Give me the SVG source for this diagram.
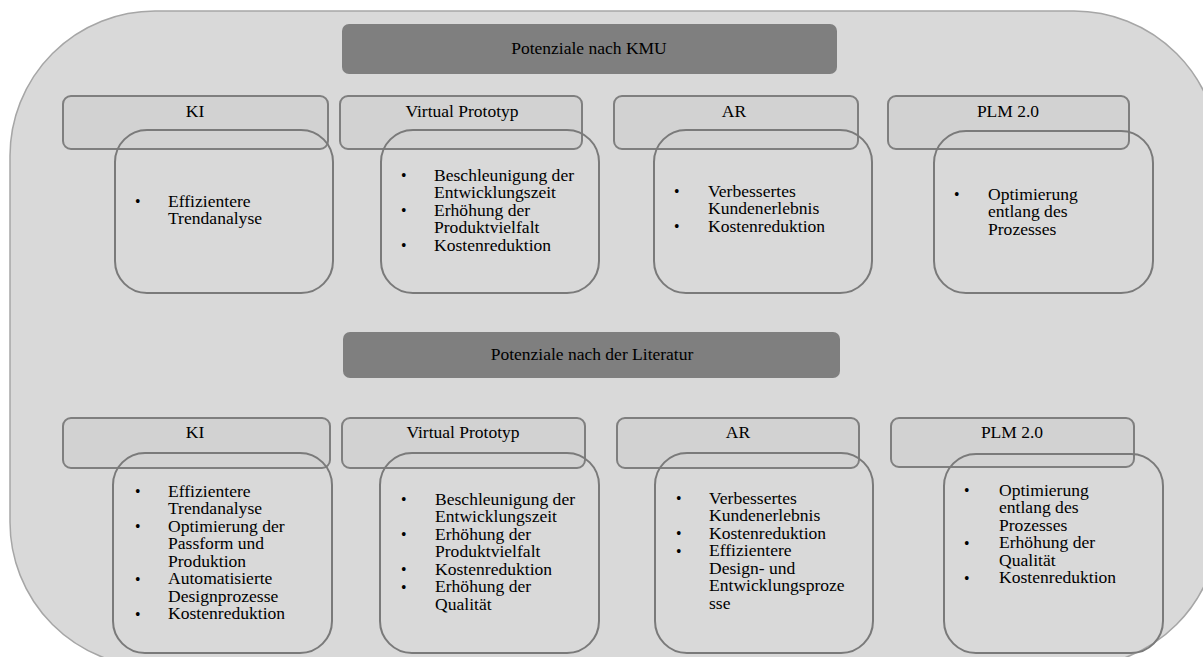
<svg xmlns="http://www.w3.org/2000/svg" width="1203" height="657" viewBox="0 0 1203 657" font-family="'Liberation Serif', 'DejaVu Serif', serif">
  <style>
    text { font-family: "Liberation Serif", "Tinos", "DejaVu Serif", serif; font-size: 17.5px; fill: #000; }
    .title { text-anchor: middle; }
    .list { font-size: 15.7px; }
    .hdr { fill: #d2d2d2; stroke: #7f7f7f; stroke-width: 2; }
    .card { fill: none; stroke: #7a7a7a; stroke-width: 2; }
    .band { fill: #7f7f7f; }
  </style>
  <rect width="1203" height="657" fill="#ffffff"/>
  <!-- outer frame -->
  <rect id="frame" x="10" y="11" width="1209" height="656" rx="145" ry="145" fill="#d9d9d9" stroke="#a6a6a6" stroke-width="1.5"/>

  <!-- section bands -->
  <g id="band-kmu">
    <rect class="band" x="342" y="24" width="495" height="50" rx="7"/>
    <text class="title" x="589" y="54">Potenziale nach KMU</text>
  </g>
  <g id="band-lit">
    <rect class="band" x="343" y="332" width="497" height="46" rx="7"/>
    <text class="title" x="592" y="360">Potenziale nach der Literatur</text>
  </g>

  <!-- upper row; list lines are set slightly condensed in height and widened -->
  <g id="kmu-ki">
    <rect class="hdr" x="63" y="96" width="265" height="53" rx="8"/>
    <text class="title" x="195" y="117">KI</text>
    <rect class="card" x="115" y="130" width="218" height="163" rx="32"/>
    <text class="list" x="135" y="207">•</text>
    <text class="list" transform="translate(168 207) scale(1.12 1)">Effizientere<tspan x="0" dy="17.5">Trendanalyse</tspan></text>
  </g>
  <g id="kmu-vp">
    <rect class="hdr" x="340" y="96" width="242" height="53" rx="8"/>
    <text class="title" x="462" y="117">Virtual Prototyp</text>
    <rect class="card" x="381" y="130" width="218" height="163" rx="32"/>
    <text class="list" x="401" y="181">•<tspan x="401" dy="35">•</tspan><tspan x="401" dy="35">•</tspan></text>
    <text class="list" transform="translate(434 181) scale(1.12 1)">Beschleunigung der<tspan x="0" dy="17.5">Entwicklungszeit</tspan><tspan x="0" dy="17.5">Erhöhung der</tspan><tspan x="0" dy="17.5">Produktvielfalt</tspan><tspan x="0" dy="17.5">Kostenreduktion</tspan></text>
  </g>
  <g id="kmu-ar">
    <rect class="hdr" x="614" y="96" width="244" height="53" rx="8"/>
    <text class="title" x="734" y="117">AR</text>
    <rect class="card" x="654" y="130" width="218" height="163" rx="32"/>
    <text class="list" x="674" y="197">•<tspan x="674" dy="35">•</tspan></text>
    <text class="list" transform="translate(708 197) scale(1.12 1)">Verbessertes<tspan x="0" dy="17.5">Kundenerlebnis</tspan><tspan x="0" dy="17.5">Kostenreduktion</tspan></text>
  </g>
  <g id="kmu-plm">
    <rect class="hdr" x="888" y="96" width="241" height="53" rx="8"/>
    <text class="title" x="1008" y="117">PLM 2.0</text>
    <rect class="card" x="934" y="131" width="219" height="162" rx="32"/>
    <text class="list" x="954" y="200">•</text>
    <text class="list" transform="translate(988 200) scale(1.12 1)">Optimierung<tspan x="0" dy="17.5">entlang des</tspan><tspan x="0" dy="17.5">Prozesses</tspan></text>
  </g>

  <!-- lower row -->
  <g id="lit-ki">
    <rect class="hdr" x="63" y="418" width="267" height="50" rx="8"/>
    <text class="title" x="195" y="438">KI</text>
    <rect class="card" x="113" y="453" width="219" height="200" rx="32"/>
    <text class="list" x="135" y="497">•<tspan x="135" dy="35">•</tspan><tspan x="135" dy="52.5">•</tspan><tspan x="135" dy="35">•</tspan></text>
    <text class="list" transform="translate(168 497) scale(1.12 1)">Effizientere<tspan x="0" dy="17.5">Trendanalyse</tspan><tspan x="0" dy="17.5">Optimierung der</tspan><tspan x="0" dy="17.5">Passform und</tspan><tspan x="0" dy="17.5">Produktion</tspan><tspan x="0" dy="17.5">Automatisierte</tspan><tspan x="0" dy="17.5">Designprozesse</tspan><tspan x="0" dy="17.5">Kostenreduktion</tspan></text>
  </g>
  <g id="lit-vp">
    <rect class="hdr" x="342" y="418" width="243" height="50" rx="8"/>
    <text class="title" x="463" y="438">Virtual Prototyp</text>
    <rect class="card" x="380" y="453" width="219" height="200" rx="32"/>
    <text class="list" x="401" y="505">•<tspan x="401" dy="35">•</tspan><tspan x="401" dy="35">•</tspan><tspan x="401" dy="17.5">•</tspan></text>
    <text class="list" transform="translate(435 505) scale(1.12 1)">Beschleunigung der<tspan x="0" dy="17.5">Entwicklungszeit</tspan><tspan x="0" dy="17.5">Erhöhung der</tspan><tspan x="0" dy="17.5">Produktvielfalt</tspan><tspan x="0" dy="17.5">Kostenreduktion</tspan><tspan x="0" dy="17.5">Erhöhung der</tspan><tspan x="0" dy="17.5">Qualität</tspan></text>
  </g>
  <g id="lit-ar">
    <rect class="hdr" x="617" y="418" width="242" height="50" rx="8"/>
    <text class="title" x="738" y="438">AR</text>
    <rect class="card" x="655" y="453" width="218" height="200" rx="32"/>
    <text class="list" x="676" y="504">•<tspan x="676" dy="35">•</tspan><tspan x="676" dy="17.5">•</tspan></text>
    <text class="list" transform="translate(709 504) scale(1.12 1)">Verbessertes<tspan x="0" dy="17.5">Kundenerlebnis</tspan><tspan x="0" dy="17.5">Kostenreduktion</tspan><tspan x="0" dy="17.5">Effizientere</tspan><tspan x="0" dy="17.5">Design- und</tspan><tspan x="0" dy="17.5">Entwicklungsproze</tspan><tspan x="0" dy="17.5">sse</tspan></text>
  </g>
  <g id="lit-plm">
    <rect class="hdr" x="891" y="418" width="243" height="49" rx="8"/>
    <text class="title" x="1012" y="438">PLM 2.0</text>
    <rect class="card" x="944" y="454" width="219" height="199" rx="32"/>
    <text class="list" x="964" y="496">•<tspan x="964" dy="52.5">•</tspan><tspan x="964" dy="35">•</tspan></text>
    <text class="list" transform="translate(999 496) scale(1.12 1)">Optimierung<tspan x="0" dy="17.5">entlang des</tspan><tspan x="0" dy="17.5">Prozesses</tspan><tspan x="0" dy="17.5">Erhöhung der</tspan><tspan x="0" dy="17.5">Qualität</tspan><tspan x="0" dy="17.5">Kostenreduktion</tspan></text>
  </g>

  <!-- no connectors in this layout -->
  <g id="connectors"/>
</svg>
